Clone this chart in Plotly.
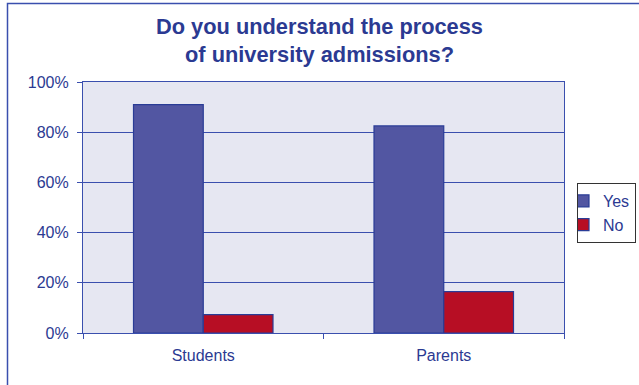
import plotly.graph_objects as go

categories = ["Students", "Parents"]
yes_values = [0.91, 0.825]
no_values = [0.073, 0.165]
y_ticks = [0, 0.2, 0.4, 0.6, 0.8, 1.0]
y_tick_labels = ["0%", "20%", "40%", "60%", "80%", "100%"]

TEXT = "#2B3A92"
LINE = "#3A4FAE"
W, H = 639, 385
L, R, T, B = 83, 75, 82, 52
pw, ph = W - L - R, H - T - B

fig = go.Figure()
fig.add_trace(go.Bar(
    name="Yes", x=categories, y=yes_values,
    marker=dict(color="#5256A2", line=dict(color="#2A3C96", width=1.2)),
))
fig.add_trace(go.Bar(
    name="No", x=categories, y=no_values,
    marker=dict(color="#B70E24", line=dict(color="#2A3C96", width=1.2)),
))

fig.update_layout(
    width=W, height=H,
    margin=dict(l=L, r=R, t=T, b=B, autoexpand=False),
    paper_bgcolor="white",
    plot_bgcolor="#E6E7F2",
    barmode="group",
    bargap=0.42,
    bargroupgap=0,
    font=dict(family="Liberation Sans, Arial, sans-serif", size=16, color=TEXT),
    title=dict(
        text="<b>Do you understand the process<br>of university admissions?</b>",
        x=0.5, xref="container", xanchor="center",
        y=1 - 34 / H, yref="container", yanchor="top",
        font=dict(size=21.8, color=TEXT),
    ),
    legend=dict(
        x=(577 - L) / pw, xanchor="left",
        y=(H - B - 183) / ph, yanchor="top",
        bgcolor="white", bordercolor="#333333", borderwidth=1,
        font=dict(size=16, color=TEXT),
        tracegroupgap=0, itemwidth=30, indentation=-15,
    ),
    showlegend=True,
)

fig.update_xaxes(
    showline=True, linecolor=LINE, linewidth=1.2, mirror=True,
    ticks="outside", tickson="boundaries", ticklen=5, tickcolor=LINE,
    ticklabelstandoff=8, showgrid=False,
)
fig.update_yaxes(
    range=[0, 1], tickvals=y_ticks, ticktext=y_tick_labels,
    showline=True, linecolor=LINE, linewidth=1.2, mirror=True,
    ticks="outside", ticklen=5, tickcolor=LINE,
    showgrid=True, gridcolor=LINE, gridwidth=1.2,
    ticklabelstandoff=5, zeroline=False,
)

# Outer frame (top and left edges visible, right/bottom run off the canvas)
fig.add_shape(
    type="rect", xref="paper", yref="paper",
    x0=(7.5 - L) / pw, x1=(W + 20 - L) / pw,
    y0=-(B + 20) / ph, y1=(H - B - 3.5) / ph,
    line=dict(color=LINE, width=1.5), fillcolor="rgba(0,0,0,0)", layer="below",
)

fig.write_html("out.html")
